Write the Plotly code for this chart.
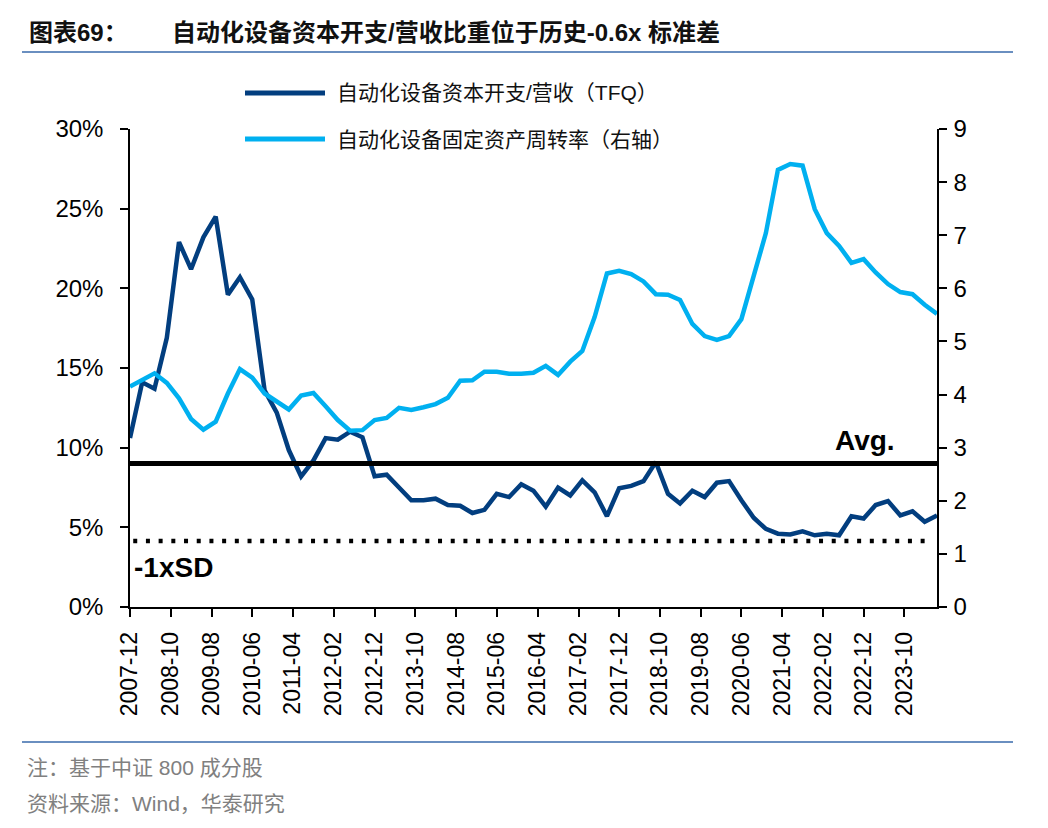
import plotly.graph_objects as go

# ---------------- data ----------------
dates = [
    "2007-12",
    "2008-03", "2008-06", "2008-09", "2008-12",
    "2009-03", "2009-06", "2009-09", "2009-12",
    "2010-03", "2010-06", "2010-09", "2010-12",
    "2011-03", "2011-06", "2011-09", "2011-12",
    "2012-03", "2012-06", "2012-09", "2012-12",
    "2013-03", "2013-06", "2013-09", "2013-12",
    "2014-03", "2014-06", "2014-09", "2014-12",
    "2015-03", "2015-06", "2015-09", "2015-12",
    "2016-03", "2016-06", "2016-09", "2016-12",
    "2017-03", "2017-06", "2017-09", "2017-12",
    "2018-03", "2018-06", "2018-09", "2018-12",
    "2019-03", "2019-06", "2019-09", "2019-12",
    "2020-03", "2020-06", "2020-09", "2020-12",
    "2021-03", "2021-06", "2021-09", "2021-12",
    "2022-03", "2022-06", "2022-09", "2022-12",
    "2023-03", "2023-06", "2023-09", "2023-12",
    "2024-03", "2024-06",
]

# 自动化设备资本开支/营收（TFQ），单位 %
capex_ratio = [
    10.6,
    14.1, 13.7, 16.9, 22.9,
    21.2, 23.2, 24.5, 19.6,
    20.7, 19.3, 13.6, 12.2,
    9.85, 8.2, 9.2, 10.6,
    10.5, 11.0, 10.65, 8.2,
    8.3, 7.5, 6.7, 6.7,
    6.8, 6.4, 6.35, 5.9,
    6.1, 7.1, 6.9, 7.7,
    7.3, 6.3, 7.5, 7.0,
    7.95, 7.2, 5.7, 7.45,
    7.6, 7.9, 9.1, 7.1,
    6.5, 7.3, 6.9, 7.8,
    7.9, 6.7, 5.6, 4.9,
    4.6, 4.55, 4.75, 4.5,
    4.6, 4.5, 5.7, 5.55,
    6.4, 6.65, 5.75, 6.0,
    5.35, 5.75,
]

# 自动化设备固定资产周转率（右轴）
asset_turnover = [
    4.15,
    4.28, 4.40, 4.22, 3.93,
    3.54, 3.34, 3.49, 4.02,
    4.48, 4.32, 4.02, 3.87,
    3.72, 3.98, 4.03, 3.78,
    3.52, 3.32, 3.33, 3.52,
    3.56, 3.75, 3.71, 3.76,
    3.82, 3.94, 4.26, 4.27,
    4.43, 4.43, 4.39, 4.39,
    4.41, 4.54, 4.37, 4.62,
    4.82, 5.46, 6.28, 6.33,
    6.27, 6.13, 5.89, 5.88,
    5.78, 5.33, 5.10, 5.03,
    5.10, 5.42, 6.22, 7.04,
    8.23, 8.34, 8.31, 7.49,
    7.04, 6.80, 6.48, 6.55,
    6.30, 6.08, 5.93, 5.89,
    5.69, 5.52,
]

avg_level = 9.0        # Avg.
minus_1sd_level = 4.15  # -1xSD

series_names = ["自动化设备资本开支/营收（TFQ）", "自动化设备固定资产周转率（右轴）"]
left_ticks = [0, 5, 10, 15, 20, 25, 30]
left_tick_text = ["0%", "5%", "10%", "15%", "20%", "25%", "30%"]
right_ticks = list(range(0, 10))

title_prefix = "图表69："
title_main = "自动化设备资本开支/营收比重位于历史-0.6x 标准差"
note_text = "注：基于中证 800 成分股"
source_text = "资料来源：Wind，华泰研究"

# ---------------- styling ----------------
DARK = "#023E7F"
LIGHT = "#00B0F0"
RULE = "#6A8FC0"
W, H = 1048, 828
L, R, T, B = 130, 937, 129, 607  # plot area pixels
LATIN = "Arial, 'Liberation Sans', 'Noto Sans CJK SC', sans-serif"

x_dates = [d + "-01" for d in dates]


def px(x):
    return (x - L) / (R - L)


def py(y):
    return (B - y) / (B - T)


fig = go.Figure()
fig.add_trace(go.Scatter(
    x=x_dates, y=capex_ratio, name=series_names[0], mode="lines",
    line=dict(color=DARK, width=4.5), yaxis="y", showlegend=False,
))
fig.add_trace(go.Scatter(
    x=x_dates, y=asset_turnover, name=series_names[1], mode="lines",
    line=dict(color=LIGHT, width=4.5), yaxis="y2", showlegend=False,
))

shapes = []
# Avg and -1xSD reference lines (data-space y)
shapes.append(dict(type="line", xref="paper", yref="y", x0=0, x1=1,
                   y0=avg_level, y1=avg_level,
                   line=dict(color="black", width=5), layer="above"))
shapes.append(dict(type="line", xref="paper", yref="y", x0=0.004, x1=0.99,
                   y0=minus_1sd_level, y1=minus_1sd_level,
                   line=dict(color="black", width=4.5, dash="4px,8.7px"), layer="above"))
# title and footer rules
shapes.append(dict(type="line", xref="paper", yref="paper", x0=px(22), x1=px(1013),
                   y0=py(52), y1=py(52), line=dict(color=RULE, width=2)))
shapes.append(dict(type="line", xref="paper", yref="paper", x0=px(22), x1=px(1013),
                   y0=py(742), y1=py(742), line=dict(color=RULE, width=2)))
# manual legend swatches
shapes.append(dict(type="line", xref="paper", yref="paper", x0=px(245), x1=px(325),
                   y0=py(93), y1=py(93), line=dict(color=DARK, width=5)))
shapes.append(dict(type="line", xref="paper", yref="paper", x0=px(245), x1=px(325),
                   y0=py(139), y1=py(139), line=dict(color=LIGHT, width=5)))

annotations = [
    dict(text=title_prefix, x=px(27), y=py(33), xanchor="left", yanchor="middle",
         font=dict(size=24, color="#111111", family=LATIN, weight="bold")),
    dict(text=title_main, x=px(170), y=py(33), xanchor="left", yanchor="middle",
         font=dict(size=24, color="#111111", family=LATIN, weight="bold")),
    dict(text=series_names[0], x=px(335), y=py(93), xanchor="left", yanchor="middle",
         font=dict(size=21, color="#111111", family=LATIN)),
    dict(text=series_names[1], x=px(335), y=py(139), xanchor="left", yanchor="middle",
         font=dict(size=21, color="#111111", family=LATIN)),
    dict(text="Avg.", x=px(833), y=py(440), xanchor="left", yanchor="middle",
         font=dict(size=28, color="black", family=LATIN, weight="bold")),
    dict(text="-1xSD", x=px(132), y=py(567), xanchor="left", yanchor="middle",
         font=dict(size=28, color="black", family=LATIN, weight="bold")),
    dict(text=note_text, x=px(25), y=py(767), xanchor="left", yanchor="middle",
         font=dict(size=21, color="#808080", family=LATIN)),
    dict(text=source_text, x=px(25), y=py(803), xanchor="left", yanchor="middle",
         font=dict(size=21, color="#808080", family=LATIN)),
]
for a in annotations:
    a.update(xref="paper", yref="paper", showarrow=False)

axis_common = dict(
    showline=True, linecolor="black", linewidth=1.5,
    ticks="outside", ticklen=8, tickcolor="black", tickwidth=1.5,
    showgrid=False, zeroline=False,
    tickfont=dict(size=24, color="black", family=LATIN),
)

fig.update_layout(
    width=W, height=H,
    margin=dict(l=L, r=W - R, t=T, b=H - B, pad=0),
    paper_bgcolor="white", plot_bgcolor="white",
    showlegend=False,
    xaxis=dict(
        type="date", range=[x_dates[0], x_dates[-1]],
        tick0=x_dates[0], dtick="M10", tickformat="%Y-%m", tickangle=-90,
        ticklabelstandoff=6,
        **{k: v for k, v in axis_common.items() if k != "tickfont"},
        tickfont=dict(size=23, color="black", family=LATIN),
    ),
    yaxis=dict(
        range=[0, 30], tickvals=left_ticks, ticktext=left_tick_text,
        ticklabelstandoff=12, **axis_common,
    ),
    yaxis2=dict(
        range=[0, 9], tickvals=right_ticks, overlaying="y", side="right",
        ticklabelstandoff=2, **axis_common,
    ),
    shapes=shapes,
    annotations=annotations,
)

fig.write_html(
    "out.html",
    config={"displayModeBar": False},
    post_script="document.body.style.margin='0';document.body.style.padding='0';",
)
